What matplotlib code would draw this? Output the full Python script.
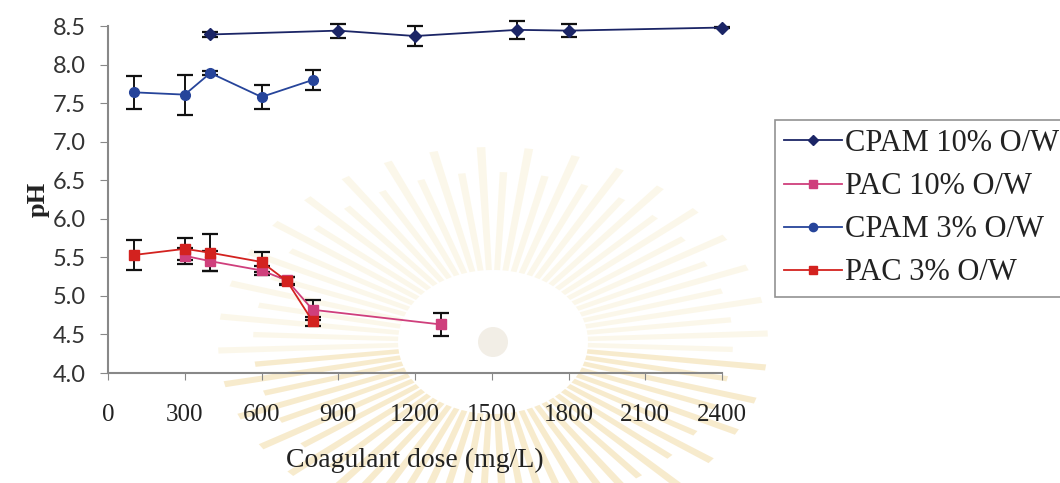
import numpy as np
import matplotlib
import matplotlib.pyplot as plt
from matplotlib.patches import Polygon, Circle

matplotlib.rc('font', family='Liberation Serif')

# pH vs coagulant dose, mean and standard deviation
dose_cpam10 = [400, 900, 1200, 1600, 1800, 2400]
ph_cpam10 = [8.39, 8.44, 8.37, 8.45, 8.44, 8.48]
sd_cpam10 = [0.03, 0.09, 0.13, 0.12, 0.08, 0.01]

dose_pac10 = [300, 400, 600, 700, 800, 1300]
ph_pac10 = [5.52, 5.45, 5.33, 5.20, 4.82, 4.63]
sd_pac10 = [0.10, 0.13, 0.06, 0.05, 0.13, 0.15]

dose_cpam3 = [100, 300, 400, 600, 800]
ph_cpam3 = [7.64, 7.61, 7.89, 7.58, 7.80]
sd_cpam3 = [0.21, 0.26, 0.03, 0.16, 0.13]

dose_pac3 = [100, 300, 400, 600, 700, 800]
ph_pac3 = [5.53, 5.61, 5.56, 5.44, 5.19, 4.67]
sd_pac3 = [0.19, 0.14, 0.24, 0.13, 0.05, 0.06]

series = [
    ('CPAM 10% O/W', dose_cpam10, ph_cpam10, sd_cpam10, '#1b2566', 'D', 6),
    ('PAC 10% O/W', dose_pac10, ph_pac10, sd_pac10, '#cf3f7c', 's', 7),
    ('CPAM 3% O/W', dose_cpam3, ph_cpam3, sd_cpam3, '#26449a', 'o', 7),
    ('PAC 3% O/W', dose_pac3, ph_pac3, sd_pac3, '#d3221f', 's', 7),
]

fig = plt.figure(figsize=(10.6, 4.83), dpi=100)

# faint emblem behind the chart, in pixel units
bg = fig.add_axes([0, 0, 1, 1], zorder=-1)
bg.set_xlim(0, 1060)
bg.set_ylim(483, 0)
bg.axis('off')
cx, cy = 493, 342
n_rays = 72
for i in range(n_rays):
    a = 2 * np.pi * (i + 0.5) / n_rays
    long_ray = i % 2 == 0
    rx_out, ry_out = (275, 195) if long_ray else (240, 170)
    rx_in, ry_in = 95, 72
    hw_in, hw_out = np.radians(1.8), np.radians(0.9)
    pts = [
        (cx + rx_in * np.cos(a - hw_in), cy - ry_in * np.sin(a - hw_in)),
        (cx + rx_out * np.cos(a - hw_out), cy - ry_out * np.sin(a - hw_out)),
        (cx + rx_out * np.cos(a + hw_out), cy - ry_out * np.sin(a + hw_out)),
        (cx + rx_in * np.cos(a + hw_in), cy - ry_in * np.sin(a + hw_in)),
    ]
    if np.sin(a) > -0.1:
        col, al = '#f3e4b4', 0.28
    else:
        col, al = '#eed08a', 0.42
    bg.add_patch(Polygon(pts, closed=True, facecolor=col, edgecolor='none', alpha=al))
bg.add_patch(Circle((cx, cy), 15, facecolor='#f2eee6', edgecolor='none'))

ax = fig.add_axes([108 / 1060, 1 - 373 / 483, (722 - 108) / 1060, (373 - 26) / 483])
ax.patch.set_alpha(0)

handles = []
for label, x, y, sd, color, marker, ms in series:
    eb = ax.errorbar(x, y, yerr=sd, fmt='none', ecolor='#111111', elinewidth=1.4,
                     capsize=6, capthick=1.6, zorder=2)
    for art in eb.lines[1] + eb.lines[2]:
        art.set_clip_on(False)
    h, = ax.plot(x, y, '-', color=color, linewidth=1.3, marker=marker,
                 markersize=ms, markerfacecolor=color, markeredgecolor=color,
                 label=label, zorder=3, clip_on=False)
    handles.append(h)

ax.set_xlim(0, 2400)
ax.set_ylim(4.0, 8.5)
ax.set_xticks(np.arange(0, 2401, 300))
ax.set_yticks(np.arange(4.0, 8.51, 0.5))
ax.set_yticklabels(['%.1f' % v for v in np.arange(4.0, 8.51, 0.5)],
                   fontfamily='Lato', fontsize=17, color='#333333')
ax.tick_params(axis='x', labelsize=18, pad=17, length=5, color='#888888',
               labelcolor='#222222')
ax.tick_params(axis='y', pad=10, length=6, color='#888888')
for s in ['top', 'right']:
    ax.spines[s].set_visible(False)
for s in ['left', 'bottom']:
    ax.spines[s].set_color('#888888')
    ax.spines[s].set_linewidth(1.5)

ax.set_xlabel('Coagulant dose (mg/L)', fontsize=20, labelpad=16, color='#222222')
ax.set_ylabel('pH', fontsize=19, fontweight='bold', labelpad=2, color='#222222')

leg = fig.legend(handles=handles, loc='upper left',
                 bbox_to_anchor=(775 / 1060, 1 - 120 / 483),
                 fontsize=22, frameon=True, fancybox=False, handlelength=1.9,
                 handletextpad=0.1, labelspacing=0.46, borderpad=0.3,
                 borderaxespad=0, markerscale=0.85)
leg.get_frame().set_edgecolor('#777777')
leg.get_frame().set_linewidth(1.2)
for t in leg.get_texts():
    t.set_color('#222222')

fig.savefig('out.png', dpi=100)
